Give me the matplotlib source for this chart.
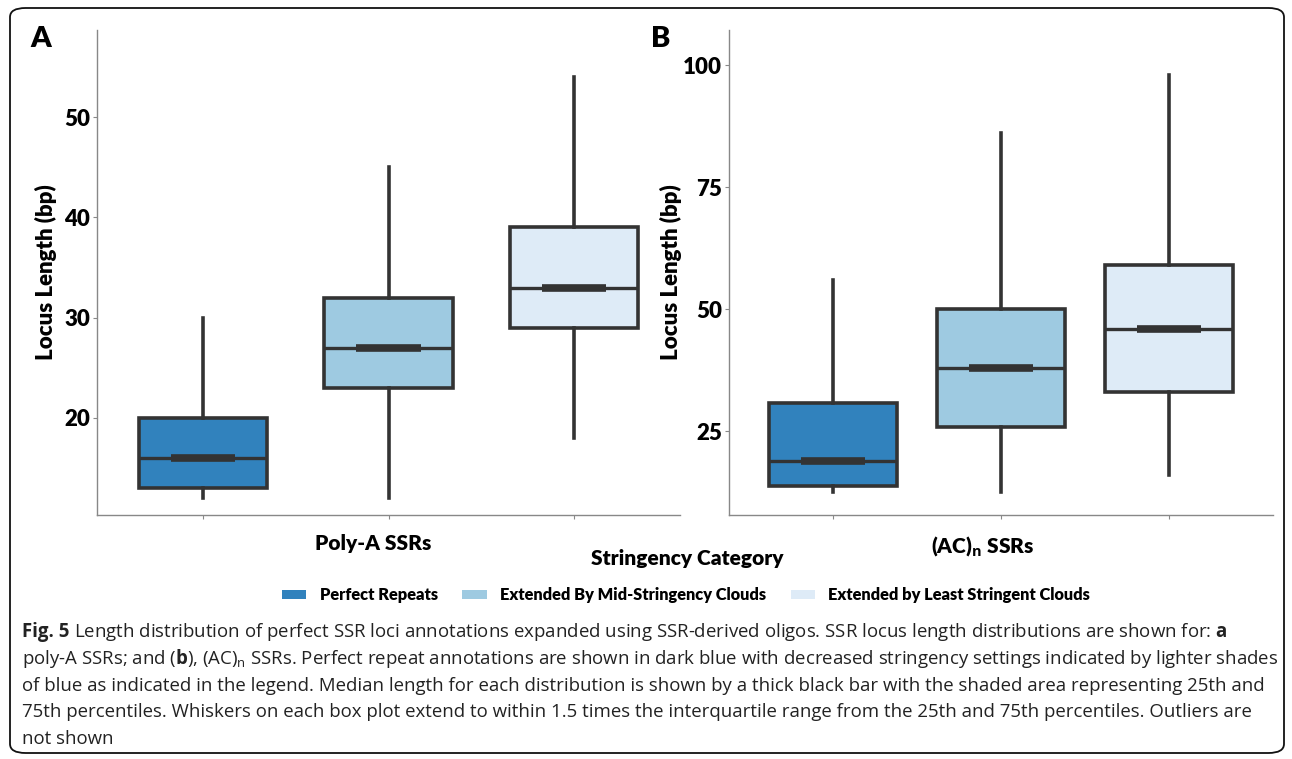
import matplotlib.pyplot as plt
import numpy as np
from matplotlib.patches import FancyBboxPatch, Patch

plt.rcParams['font.family'] = ['Lato', 'DejaVu Sans']
plt.rcParams['mathtext.fontset'] = 'custom'
plt.rcParams['mathtext.rm'] = 'Open Sans'
plt.rcParams['mathtext.bf'] = 'Open Sans:bold'

categories = ['Perfect Repeats', 'Extended By Mid-Stringency Clouds', 'Extended by Least Stringent Clouds']
colors = ['#3182bd', '#9ecae1', '#deebf7']

# Poly-A SSRs: whisker low, q1, median, q3, whisker high
polya_lo = [12, 12, 18]
polya_q1 = [13, 23, 29]
polya_med = [16, 27, 33]
polya_q3 = [20, 32, 39]
polya_hi = [30, 45, 54]

# (AC)n SSRs
ac_lo = [12.5, 12.5, 16]
ac_q1 = [13.8, 25.8, 33]
ac_med = [18.9, 38, 46]
ac_q3 = [30.8, 50, 59]
ac_hi = [56, 86, 98]

edge = '#333333'
W = 'heavy'

fig = plt.figure(figsize=(12.92, 7.59), dpi=100)


def draw_panel(ax, lo, q1, med, q3, hi, width, yticks, ylim, xlim, xlabel, xlab_x, ypad):
    stats = []
    for i in range(3):
        stats.append({'whislo': lo[i], 'q1': q1[i], 'med': med[i], 'q3': q3[i], 'whishi': hi[i]})
    pos = np.arange(3)
    bp = ax.bxp(stats, positions=pos, widths=width, showcaps=False, showfliers=False,
                patch_artist=True,
                boxprops=dict(edgecolor=edge, linewidth=2.6),
                whiskerprops=dict(color=edge, linewidth=2.6),
                medianprops=dict(color=edge, linewidth=2.4, solid_capstyle='butt'))
    for patch, c in zip(bp['boxes'], colors):
        patch.set_facecolor(c)
    # thick centre bar on each median
    ax.hlines(med, pos - width / 4, pos + width / 4, color=edge, linewidth=5.5, zorder=5)
    ax.set_xlim(*xlim)
    ax.set_ylim(*ylim)
    ax.set_yticks(yticks)
    ax.set_xticks(pos)
    ax.set_xticklabels([])
    for s in ['top', 'right']:
        ax.spines[s].set_visible(False)
    for s in ['left', 'bottom']:
        ax.spines[s].set_color('#888888')
        ax.spines[s].set_linewidth(1.0)
    ax.tick_params(axis='both', color='#888888', length=3, width=0.8)
    ax.tick_params(axis='y', labelsize=16, pad=2)
    for lab in ax.get_yticklabels():
        lab.set_fontweight(W)
    ax.set_ylabel('Locus Length (bp)', fontsize=16, fontweight=W, labelpad=ypad)
    ax.text(xlab_x, -0.04, xlabel, transform=ax.get_xaxis_transform(), ha='center', va='top',
            fontsize=15, fontweight=W)


ax1 = fig.add_axes([97 / 1292, 1 - 515 / 759, 583 / 1292, 485 / 759])
draw_panel(ax1, polya_lo, polya_q1, polya_med, polya_q3, polya_hi, 0.69,
           [20, 30, 40, 50], (10.3, 58.7), (-0.57, 2.57), 'Poly-A SSRs', 0.92, 5)

ax2 = fig.add_axes([729 / 1292, 1 - 515 / 759, 544 / 1292, 485 / 759])
draw_panel(ax2, ac_lo, ac_q1, ac_med, ac_q3, ac_hi, 0.765,
           [25, 50, 75, 100], (7.8, 107.2), (-0.62, 2.62), r'(AC)$_\mathbf{n}$ SSRs', 0.89, 1)

fig.text(30 / 1292, 1 - 39 / 759, 'A', fontsize=21, fontweight=W, va='center', ha='left')
fig.text(651 / 1292, 1 - 39 / 759, 'B', fontsize=21, fontweight=W, va='center', ha='left')
fig.text(687 / 1292, 1 - 558 / 759, 'Stringency Category', fontsize=15, fontweight=W,
         ha='center', va='center')

handles = [Patch(facecolor=c, edgecolor='none') for c in colors]
leg = fig.legend(handles, categories, loc='center', bbox_to_anchor=(686 / 1292, 1 - 595 / 759),
                 ncol=3, frameon=False, handlelength=1.5, handleheight=0.45,
                 handletextpad=0.8, columnspacing=1.5,
                 prop={'family': 'Lato', 'weight': W, 'size': 11.8})

# caption underneath, "Fig. 5" set in bold ahead of the first line
cap_size = 13.4
caption = [
    r'Length distribution of perfect SSR loci annotations expanded using SSR-derived oligos. '
    r'SSR locus length distributions are shown for: $\bf{a}$',
    r'poly-A SSRs; and ($\bf{b}$), (AC)$_\mathrm{n}$ SSRs. Perfect repeat annotations are shown in dark blue '
    r'with decreased stringency settings indicated by lighter shades',
    'of blue as indicated in the legend. Median length for each distribution is shown by a thick black bar '
    'with the shaded area representing 25th and',
    '75th percentiles. Whiskers on each box plot extend to within 1.5 times the interquartile range from '
    'the 25th and 75th percentiles. Outliers are',
    'not shown',
]
line_y = [632, 659, 686, 712, 739]
renderer = fig.canvas.get_renderer()
fig_label = fig.text(22 / 1292, 1 - line_y[0] / 759, 'Fig. 5 ', fontsize=cap_size, family='Open Sans',
                     fontweight='bold', color='#222222', ha='left', va='center')
lab_w = fig_label.get_window_extent(renderer).width
for i, (txt, y) in enumerate(zip(caption, line_y)):
    x0 = 22 + (lab_w if i == 0 else 0)
    fig.text(x0 / 1292, 1 - y / 759, txt, fontsize=cap_size, family='Open Sans', color='#222222',
             ha='left', va='center')

border = FancyBboxPatch((10 / 1292, 1 - 753 / 759), 1274 / 1292, 745 / 759,
                        boxstyle='round,pad=0,rounding_size=0.012', transform=fig.transFigure,
                        facecolor='none', edgecolor='#111111', linewidth=1.3)
fig.patches.append(border)

fig.savefig('out.png', dpi=100)
